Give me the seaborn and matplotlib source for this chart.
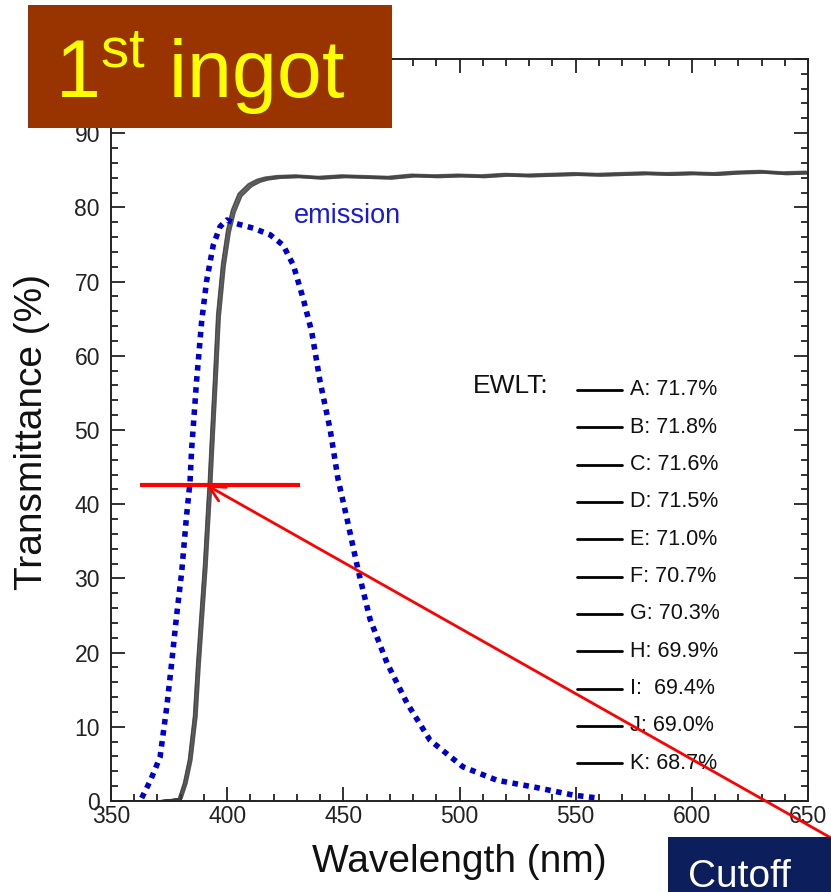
import matplotlib
matplotlib.use("Agg")
import matplotlib.pyplot as plt
import numpy as np
import pandas as pd
import seaborn as sns
from matplotlib.patches import Rectangle
from matplotlib.ticker import MultipleLocator, FuncFormatter

# ---------------- data ----------------
trans_wl = [350, 370, 379.7, 381.9, 384.0, 386.2, 387.5, 389.0, 390.5, 391.9, 392.6,
            393.3, 394.8, 396.2, 398.3, 400.5, 402.6, 405.5, 409.8, 413.5, 417.0, 422.0,
            430, 440, 450, 460, 470, 480, 490, 500, 510, 520, 530, 540, 550, 560,
            570, 580, 590, 600, 610, 620, 630, 640, 650]
trans_pct = [0.0, 0.0, 0.3, 2.4, 5.5, 11.4, 18.1, 24.9, 31.6, 39.3, 43.0,
             47.4, 56.5, 65.4, 72.2, 76.8, 79.5, 81.7, 83.0, 83.6, 83.9, 84.1,
             84.2, 84.0, 84.2, 84.1, 84.0, 84.3, 84.2, 84.3, 84.2, 84.4, 84.3, 84.4, 84.5, 84.4,
             84.5, 84.6, 84.5, 84.6, 84.5, 84.7, 84.8, 84.6, 84.7]

samples = ["A", "B", "C", "D", "E", "F", "G", "H", "I", "J", "K"]
ewlt = ["71.7%", "71.8%", "71.6%", "71.5%", "71.0%", "70.7%", "70.3%", "69.9%", "69.4%", "69.0%", "68.7%"]
sample_shift_nm = [-0.7, -0.8, -0.6, -0.5, -0.2, 0.0, 0.2, 0.4, 0.6, 0.8, 0.9]
sample_plateau_offset = [0.15, 0.2, 0.1, 0.1, 0.0, 0.0, -0.05, -0.1, -0.15, -0.2, -0.2]

em_wl = [363.2, 367.0, 371.1, 374.0, 376.1, 378.2, 380.4, 382.5, 384.0, 384.7, 386.8,
         389.0, 391.1, 394.0, 396.9, 399.8, 404.1, 411.2, 418.5, 424.1, 428.5, 432.8,
         436.4, 440.0, 444.3, 447.7, 451.6, 456.3, 461.5, 468.8, 477.4, 487.3, 501.5,
         516.1, 533.4, 548.9, 559.6]
em_pct = [0.4, 2.8, 5.9, 12.7, 18.6, 24.9, 30.8, 38.4, 43.0, 47.4, 56.5,
          64.6, 70.0, 74.9, 77.4, 78.3, 77.8, 77.2, 76.3, 74.9, 72.2, 67.6,
          63.2, 56.5, 50.1, 43.4, 38.0, 31.2, 24.5, 18.6, 13.2, 8.2, 4.6,
          2.8, 1.8, 0.8, 0.4]

# annotation geometry (data coordinates)
cut_level = 42.6
cut_line_x = [362.5, 431.4]
arrow_tip = (391.0, 42.6)
arrow_tail = (664.0, -5.7)

# ---------------- build tables ----------------
rows = []
for s, dx, dy in zip(samples, sample_shift_nm, sample_plateau_offset):
    for w, t in zip(trans_wl, trans_pct):
        rows.append({"sample": s, "wl": w + dx, "T": t + dy * (t / 84.0)})
df_t = pd.DataFrame(rows)
df_e = pd.DataFrame({"wl": em_wl, "E": em_pct})

# ---------------- style ----------------
sns.set_theme(style="ticks")
plt.rcParams["font.family"] = ["Liberation Sans", "DejaVu Sans"]
plt.rcParams["mathtext.fontset"] = "custom"
plt.rcParams["mathtext.rm"] = "Liberation Sans"

fig = plt.figure(figsize=(8.31, 8.92), dpi=100)
fig.patch.set_facecolor("white")
ax = fig.add_axes([0.1336, 0.102, 0.8387, 0.8319])

sns.lineplot(data=df_t, x="wl", y="T", units="sample", estimator=None,
             color="#3a3a3a", lw=0.8, alpha=0.6, ax=ax, legend=False)
sns.lineplot(data=df_e, x="wl", y="E", color="#0000cc", lw=4.0, ax=ax,
             legend=False, sort=False)
em_line = ax.lines[-1]
em_line.set_dashes((1, 1))
em_line.set_dash_capstyle("butt")

ax.set_xlim(350, 650)
ax.set_ylim(0, 100)
ax.xaxis.set_major_locator(MultipleLocator(50))
ax.xaxis.set_minor_locator(MultipleLocator(10))
ax.yaxis.set_major_locator(MultipleLocator(10))
ax.yaxis.set_minor_locator(MultipleLocator(2))
ax.yaxis.set_major_formatter(FuncFormatter(lambda v, p: "" if v >= 100 else f"{v:.0f}"))
ax.tick_params(which="both", direction="in", top=True, right=True, width=1.3,
               color="#222222")
ax.tick_params(which="major", length=10)
ax.tick_params(which="minor", length=5)
ax.tick_params(axis="x", labelsize=16.5, pad=3, labelcolor="#222222")
ax.tick_params(axis="y", labelsize=16.5, pad=8, labelcolor="#222222")
for sp in ax.spines.values():
    sp.set_linewidth(1.4)
    sp.set_color("#222222")

ax.set_xlabel("Wavelength (nm)", fontsize=28, color="#111111")
ax.set_ylabel("Transmittance (%)", fontsize=28, color="#111111")
ax.xaxis.set_label_coords(0.5, -0.058)
ax.yaxis.set_label_coords(-0.088, 0.497)

# emission label
ax.text(0.262, 0.789, "emission", transform=ax.transAxes, fontsize=19.5,
        color="#1a1ad6", ha="left", va="center")

# EWLT legend
ax.text(0.627, 0.559, "EWLT:", transform=ax.transAxes, fontsize=19,
        color="#111111", ha="right", va="center")
for i, (s, v) in enumerate(zip(samples, ewlt)):
    yy = 0.554 - i * 0.0503
    ax.plot([0.6686, 0.733], [yy, yy], transform=ax.transAxes, color="black", lw=2.0)
    sep = ":  " if s == "I" else ": "
    ax.text(0.7446, yy, f"{s}{sep}{v}", transform=ax.transAxes, fontsize=15.5,
            color="#111111", ha="left", va="center")

# red cutoff marker
ax.plot(cut_line_x, [cut_level, cut_level], color="red", lw=3.0, clip_on=False,
        solid_capstyle="butt")
ax.annotate("", xy=arrow_tip, xytext=arrow_tail, annotation_clip=False,
            arrowprops=dict(arrowstyle="->", color="red", lw=2.0, mutation_scale=28,
                            shrinkA=0, shrinkB=0))

# title box
fig.add_artist(Rectangle((0.0337, 0.8565), 0.438, 0.1379, transform=fig.transFigure,
                         facecolor="#993300", edgecolor="none", zorder=10))
fig.text(0.066, 0.890, r"1$^{\mathrm{st}}$ ingot", fontsize=58, color="#ffff00",
         ha="left", va="baseline", zorder=11)

# cutoff box (cut by the right edge, as in the reference)
fig.add_artist(Rectangle((0.8039, -0.01), 0.3, 0.0717, transform=fig.transFigure,
                         facecolor="#0c1f5c", edgecolor="none", zorder=10))
fig.text(0.828, 0.006, "Cutoff", fontsize=28, color="white", ha="left",
         va="baseline", zorder=11)

fig.savefig("out.png", dpi=100)
